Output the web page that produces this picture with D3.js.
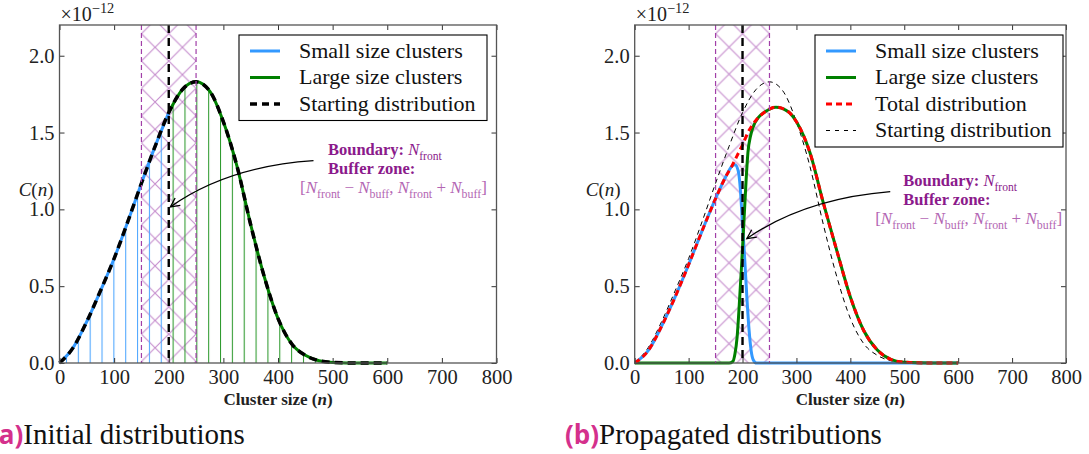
<!doctype html>
<html>
<head>
<meta charset="utf-8">
<script src="https://cdn.jsdelivr.net/npm/d3@7"></script>
<style>
  body {margin: 0; background: #fff;}
  svg text {font-family: "Liberation Serif", "DejaVu Serif", serif;}
</style>
</head>
<body>
<svg width="1089" height="454"></svg>
<script>
// ---- data (C in units of 1e-12) ----
const xTicks = [0, 100, 200, 300, 400, 500, 600, 700, 800];
const yTicks = [0, 0.5, 1.0, 1.5, 2.0];

const startN = [0, 25, 50, 75, 100, 125, 150, 175, 200, 225, 250, 275, 300, 325, 350, 375, 400, 425, 450, 475, 500, 550, 600];
const startC = [0, 0.10, 0.27, 0.47, 0.68, 0.92, 1.17, 1.41, 1.63, 1.78, 1.83, 1.77, 1.57, 1.28, 0.90, 0.56, 0.29, 0.125, 0.05, 0.015, 0.004, 0, 0];

// propagated distributions (right panel)
const smallN = [0, 25, 50, 75, 100, 125, 150, 170, 180, 186, 192, 196, 200, 204, 208, 212, 216, 220, 226, 300, 400, 500, 600];
const smallC = [0, 0.08, 0.24, 0.43, 0.64, 0.86, 1.07, 1.22, 1.28, 1.29, 1.25, 1.13, 0.90, 0.68, 0.43, 0.22, 0.08, 0.02, 0, 0, 0, 0, 0];
const largeN = [0, 100, 175, 182, 186, 190, 194, 198, 202, 206, 210, 215, 220, 230, 240, 262, 285, 300, 325, 350, 375, 400, 425, 450, 475, 500, 550, 600];
const largeC = [0, 0, 0, 0.01, 0.06, 0.17, 0.38, 0.62, 0.88, 1.15, 1.37, 1.48, 1.54, 1.60, 1.63, 1.665, 1.635, 1.57, 1.37, 1.04, 0.73, 0.43, 0.21, 0.085, 0.024, 0.005, 0, 0];
const totalN = [0, 25, 50, 75, 100, 125, 150, 170, 180, 190, 200, 210, 225, 240, 262, 285, 300, 325, 350, 375, 400, 425, 450, 475, 500, 550, 600];
const totalC = [0, 0.08, 0.24, 0.43, 0.64, 0.86, 1.07, 1.22, 1.28, 1.35, 1.42, 1.50, 1.58, 1.63, 1.665, 1.635, 1.57, 1.37, 1.04, 0.73, 0.43, 0.21, 0.085, 0.024, 0.005, 0, 0];

const nFront = 200, nBuff = 50;

const BLUE = "#3399ff", GREEN = "#008000", RED = "#ff0000", PURPLE = "#8b1a8b";
const SERIF = "'Liberation Serif', 'DejaVu Serif', serif";

const svg = d3.select("svg");
const defs = svg.append("defs");
const TOP = 25, H = 338;

const zip = (ns, cs) => ns.map((n, i) => ({n: n, c: cs[i]}));

// arrow head marker
defs.append("marker").attr("id", "arr")
    .attr("markerUnits", "userSpaceOnUse").attr("markerWidth", 20).attr("markerHeight", 20)
    .attr("viewBox", "-10 -10 20 20").attr("refX", 0).attr("refY", 0).attr("orient", "auto")
  .append("path").attr("d", "M-9,-4.5 L0,0 L-9,4.5").attr("fill", "none").attr("stroke", "#000").attr("stroke-width", 1.3);

// vertical-line hatch patterns (left panel)
function vPattern(id, color) {
    const p = defs.append("pattern").attr("id", id).attr("patternUnits", "userSpaceOnUse")
        .attr("x", 6.45).attr("y", 0).attr("width", 11.85).attr("height", 10);
    p.append("line").attr("x1", 0.5).attr("x2", 0.5).attr("y1", 0).attr("y2", 10)
        .attr("stroke", color).attr("stroke-width", 1.1);
}
vPattern("vblue", "#4da6ff");
vPattern("vgreen", "#2f9a2f");

// rich text helper: parts = [[text, kind]] kind: r, b, i, sub, sup
function rich(sel, parts, size) {
    let shift = 0;
    parts.forEach(([t, k]) => {
        const ts = sel.append("tspan").text(t);
        let target = 0;
        if (k === "sub") { ts.attr("font-size", size * 0.7); target = size * 0.28; }
        if (k === "sup") { ts.attr("font-size", size * 0.72); target = -size * 0.42; }
        if (k === "i") ts.attr("font-style", "italic");
        if (k === "b") ts.attr("font-weight", "bold");
        if (target !== shift) { ts.attr("dy", target - shift); shift = target; }
    });
}

function panel(cfg) {
    const g = svg.append("g").attr("transform", `translate(${cfg.left},${TOP})`);
    const x = d3.scaleLinear().domain([0, 800]).range([0, cfg.width]);
    const y = d3.scaleLinear().domain([0, 2.2]).range([H, 0]);
    const line = d3.line().x(d => x(d.n)).y(d => y(d.c)).curve(d3.curveMonotoneX);
    const area = d3.area().x(d => x(d.n)).y0(H).y1(d => y(d.c)).curve(d3.curveMonotoneX);

    // buffer zone cross hatch
    const step = x(nFront) - x(nFront - nBuff);
    const pid = "xh" + cfg.id;
    const p = defs.append("pattern").attr("id", pid).attr("patternUnits", "userSpaceOnUse")
        .attr("x", x(nFront - nBuff)).attr("y", 8.7).attr("width", step).attr("height", step);
    p.append("path").attr("d", `M0,0L${step},${step}M0,${step}L${step},0`)
        .attr("stroke", "#c48bcc").attr("stroke-width", 1.1).attr("fill", "none");
    g.append("rect").attr("x", x(nFront - nBuff)).attr("y", 0)
        .attr("width", x(nFront + nBuff) - x(nFront - nBuff)).attr("height", H)
        .attr("fill", `url(#${pid})`);

    cfg.draw(g, x, y, line, area);

    // buffer edges and front
    [nFront - nBuff, nFront + nBuff].forEach(v => {
        g.append("line").attr("x1", x(v)).attr("x2", x(v)).attr("y1", 0).attr("y2", H)
            .attr("stroke", "#a13fa8").attr("stroke-width", 1.2).attr("stroke-dasharray", "5,3");
    });
    g.append("line").attr("x1", x(nFront)).attr("x2", x(nFront)).attr("y1", 0).attr("y2", H)
        .attr("stroke", "#000").attr("stroke-width", 2.4).attr("stroke-dasharray", "8,5");

    // axes: inward ticks on all four sides
    const ax = g.append("g").attr("transform", `translate(0,${H})`)
        .call(d3.axisBottom(x).tickValues(xTicks).tickSizeInner(-5).tickSizeOuter(0).tickPadding(6));
    const at = g.append("g")
        .call(d3.axisTop(x).tickValues(xTicks).tickSizeInner(-5).tickSizeOuter(0).tickFormat(""));
    const ay = g.append("g")
        .call(d3.axisLeft(y).tickValues(yTicks).tickSizeInner(-5).tickSizeOuter(0).tickPadding(5).tickFormat(d3.format(".1f")));
    const ar = g.append("g").attr("transform", `translate(${cfg.width},0)`)
        .call(d3.axisRight(y).tickValues(yTicks).tickSizeInner(-5).tickSizeOuter(0).tickFormat(""));
    [ax, at, ay, ar].forEach(a => {
        a.attr("font-family", SERIF);
        a.select(".domain").remove();
        a.selectAll(".tick line").attr("stroke", "#333");
        a.selectAll("text").style("font-size", "20.5px").style("font-family", SERIF).attr("fill", "#222");
    });
    g.append("rect").attr("width", cfg.width).attr("height", H)
        .attr("fill", "none").attr("stroke", "#555").attr("stroke-width", 1.3);

    // multiplier
    rich(g.append("text").attr("x", 1).attr("y", -4).attr("font-size", 20).attr("fill", "#222"),
        [["\u00d710", "r"], ["\u221212", "sup"]], 20);

    // axis labels
    rich(g.append("text").attr("x", cfg.width / 2).attr("y", H + 42).attr("text-anchor", "middle")
        .attr("font-size", 17).attr("font-weight", "bold").attr("fill", "#222"),
        [["Cluster size (", "r"], ["n", "i"], [")", "r"]], 17);
    rich(g.append("text").attr("x", cfg.ylabX).attr("y", 171).attr("text-anchor", "end")
        .attr("font-size", 19).attr("fill", "#222"),
        [["C", "i"], ["(", "r"], ["n", "i"], [")", "r"]], 19);

    // legend
    const lg = g.append("g").attr("transform", `translate(${cfg.legX},10)`);
    lg.append("rect").attr("width", 248).attr("height", cfg.items.length * 26.5 + 6)
        .attr("fill", "#fff").attr("stroke", "#000").attr("stroke-width", 1.1);
    cfg.items.forEach((it, i) => {
        const yy = 16 + i * 26.5;
        lg.append("line").attr("x1", 11).attr("x2", 41).attr("y1", yy).attr("y2", yy)
            .attr("stroke", it.color).attr("stroke-width", it.w)
            .attr("stroke-dasharray", it.dash || null);
        lg.append("text").attr("x", 60).attr("y", yy + 6.5).attr("font-size", 22)
            .attr("fill", "#111").text(it.label);
    });

    // annotation
    const a = cfg.ann;
    g.append("path")
        .attr("d", `M${x(a.from[0])},${y(a.from[1])} Q${x(a.ctrl[0])},${y(a.ctrl[1])} ${x(a.to[0])},${y(a.to[1])}`)
        .attr("fill", "none").attr("stroke", "#000").attr("stroke-width", 1.3)
        .attr("marker-end", "url(#arr)");
    const tx = 268.5;
    rich(g.append("text").attr("x", tx).attr("y", a.base).attr("font-size", 16.5).attr("fill", PURPLE),
        [["Boundary: ", "b"], ["N", "i"], ["front", "sub"]], 16.5);
    rich(g.append("text").attr("x", tx).attr("y", a.base + 18.5).attr("font-size", 16.5)
        .attr("font-weight", "bold").attr("fill", PURPLE),
        [["Buffer zone:", "b"]], 16.5);
    rich(g.append("text").attr("x", tx - 28).attr("y", a.base + 38).attr("font-size", 17).attr("fill", "#b366b3"),
        [["[", "r"], ["N", "i"], ["front", "sub"], [" \u2212 ", "r"], ["N", "i"], ["buff", "sub"], [", ", "r"],
         ["N", "i"], ["front", "sub"], [" + ", "r"], ["N", "i"], ["buff", "sub"], ["]", "r"]], 17);

    // caption
    const cap = svg.append("text").attr("x", cfg.capX).attr("y", 444);
    cap.append("tspan").style("font-family", "'Open Sans', sans-serif").attr("font-weight", "bold")
        .attr("font-size", 26).attr("fill", "#d4308c").text(cfg.tag);
    cap.append("tspan").attr("font-size", 29).attr("fill", "#111").text(cfg.caption);
}

// ---- left: initial distributions ----
panel({
    id: "a", left: 59.5, width: 437, legX: 179.5, ylabX: -6, capX: -10, tag: "(a)", caption: "Initial distributions",
    items: [
        {label: "Small size clusters", color: BLUE, w: 3},
        {label: "Large size clusters", color: GREEN, w: 3},
        {label: "Starting distribution", color: "#000", w: 3.5, dash: "7,5"}
    ],
    ann: {from: [465, 1.317], ctrl: [308, 1.28], to: [203, 1.016], base: 130},
    draw: (g, x, y, line, area) => {
        const start = zip(startN, startC);
        const small = start.filter(d => d.n <= nFront);
        const large = start.filter(d => d.n >= nFront);
        g.append("path").datum(small).attr("d", area).attr("fill", "url(#vblue)");
        g.append("path").datum(large).attr("d", area).attr("fill", "url(#vgreen)");
        g.append("path").datum(small).attr("d", line).attr("fill", "none").attr("stroke", BLUE).attr("stroke-width", 3);
        g.append("path").datum(large).attr("d", line).attr("fill", "none").attr("stroke", GREEN).attr("stroke-width", 3);
        g.append("path").datum(start).attr("d", line).attr("fill", "none").attr("stroke", "#000")
            .attr("stroke-width", 3.5).attr("stroke-dasharray", "8,5");
    }
});

// ---- right: propagated distributions ----
panel({
    id: "b", left: 634.7, width: 431.3, legX: 180.3, ylabX: -14, capX: 565, tag: "(b)", caption: "Propagated distributions",
    items: [
        {label: "Small size clusters", color: BLUE, w: 3},
        {label: "Large size clusters", color: GREEN, w: 3},
        {label: "Total distribution", color: RED, w: 3, dash: "6,4"},
        {label: "Starting distribution", color: "#000", w: 1, dash: "4,5"}
    ],
    ann: {from: [474, 1.115], ctrl: [316, 1.07], to: [208, 0.81], base: 161},
    draw: (g, x, y, line, area) => {
        g.append("path").datum(zip(startN, startC)).attr("d", line).attr("fill", "none")
            .attr("stroke", "#000").attr("stroke-width", 1).attr("stroke-dasharray", "5,4");
        g.append("path").datum(zip(smallN, smallC)).attr("d", line).attr("fill", "none")
            .attr("stroke", BLUE).attr("stroke-width", 3);
        g.append("path").datum(zip(largeN, largeC)).attr("d", line).attr("fill", "none")
            .attr("stroke", GREEN).attr("stroke-width", 3);
        g.append("path").datum(zip(totalN, totalC)).attr("d", line).attr("fill", "none")
            .attr("stroke", RED).attr("stroke-width", 3).attr("stroke-dasharray", "6,4");
    }
});
</script>
</body>
</html>
